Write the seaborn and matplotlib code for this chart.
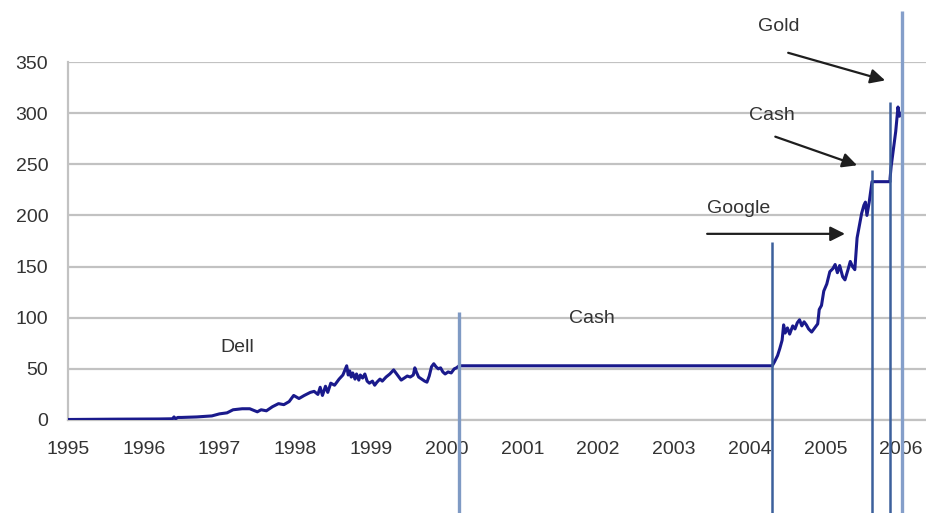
import numpy as np
import pandas as pd
import matplotlib
matplotlib.use("Agg")
import matplotlib.pyplot as plt
import seaborn as sns

# ---- data (decimal years, portfolio value) ----
dell_x = [1995.0, 1995.3, 1995.6, 1995.9, 1996.2, 1996.38, 1996.4, 1996.42, 1996.45, 1996.5,
          1996.7, 1996.9, 1997.0, 1997.1, 1997.18, 1997.3, 1997.4, 1997.5, 1997.55, 1997.62,
          1997.7, 1997.78, 1997.85, 1997.92, 1997.98, 1998.05, 1998.12, 1998.2, 1998.25, 1998.3,
          1998.33, 1998.36, 1998.4, 1998.43, 1998.47, 1998.52, 1998.58, 1998.63, 1998.68, 1998.70,
          1998.72, 1998.74, 1998.76, 1998.79, 1998.81, 1998.84, 1998.86, 1998.89, 1998.92, 1998.95,
          1998.98, 1999.02, 1999.05, 1999.08, 1999.12, 1999.15, 1999.20, 1999.25, 1999.30, 1999.33,
          1999.37, 1999.40, 1999.44, 1999.48, 1999.52, 1999.56, 1999.58, 1999.60, 1999.63, 1999.67,
          1999.71, 1999.74, 1999.77, 1999.80, 1999.83, 1999.86, 1999.89, 1999.92, 1999.95, 1999.98,
          2000.02, 2000.06, 2000.10, 2000.13, 2000.165]
dell_y = [0.5, 0.7, 0.8, 0.9, 1.0, 1.2, 3.0, 1.2, 2.5, 2.5,
          3.0, 4.0, 6.0, 7.0, 10.0, 11.0, 11.0, 8.0, 10.0, 9.0,
          13.0, 16.0, 15.0, 18.0, 24.0, 21.0, 24.0, 27.0, 28.0, 25.0,
          32.0, 24.0, 33.0, 27.0, 36.0, 34.0, 40.0, 44.0, 53.0, 44.0,
          48.0, 42.0, 46.0, 40.0, 45.0, 39.0, 44.0, 41.0, 45.0, 38.0,
          36.0, 38.0, 34.0, 37.0, 40.0, 38.0, 42.0, 45.0, 49.0, 46.0,
          42.0, 39.0, 41.0, 43.0, 42.0, 44.0, 51.0, 47.0, 42.0, 40.0,
          38.0, 37.0, 43.0, 52.0, 55.0, 52.0, 50.0, 51.0, 47.0, 45.0,
          47.0, 46.0, 50.0, 51.0, 53.0]
cash1_x = [2000.165, 2004.30]
cash1_y = [53.0, 53.0]
google_x = [2004.30, 2004.33, 2004.37, 2004.40, 2004.43, 2004.45, 2004.47, 2004.50, 2004.53,
            2004.57, 2004.60, 2004.63, 2004.66, 2004.69, 2004.72, 2004.75, 2004.78, 2004.82,
            2004.86, 2004.90, 2004.92, 2004.95, 2004.98, 2005.02, 2005.06, 2005.10, 2005.13,
            2005.16, 2005.19, 2005.23, 2005.26, 2005.30, 2005.33, 2005.36, 2005.39, 2005.42,
            2005.45, 2005.48, 2005.51, 2005.53, 2005.55, 2005.58, 2005.617]
google_y = [53, 57, 63, 70, 78, 93, 85, 90, 84,
            92, 89, 95, 98, 92, 96, 93, 89, 86,
            90, 94, 108, 112, 126, 133, 145, 148, 152,
            144, 151, 140, 137, 147, 155, 150, 147, 178,
            190, 202, 210, 213, 200, 213, 233]
cash2_x = [2005.617, 2005.855]
cash2_y = [233.0, 233.0]
gold_x = [2005.855, 2005.87, 2005.90, 2005.93, 2005.96, 2005.98, 2006.0]
gold_y = [236, 248, 265, 282, 306, 297, 300]

# portfolio switch markers
switch_x = [2000.165, 2004.30, 2005.617, 2005.86, 2006.01]
switch_top = [106, 174, 244, 311, 400]
switch_color = ["#7f9ac4", "#3c609c", "#3c609c", "#3c609c", "#859fca"]
switch_lw = [2.4, 1.8, 1.8, 1.8, 2.4]

year_ticks = list(range(1995, 2007))
value_ticks = list(range(0, 351, 50))

labels_text = ["Dell", "Cash", "Google", "Cash", "Gold"]
labels_x = [1997.23, 2001.92, 2003.85, 2004.30, 2004.39]
labels_y = [71, 99, 207, 298, 385]

arrow_from = [(2003.44, 182), (2004.34, 277), (2004.51, 359)]
arrow_to = [(2005.26, 182), (2005.42, 249), (2005.79, 332)]

# ---- build series ----
xs = dell_x + cash1_x + google_x + cash2_x + gold_x
ys = dell_y + cash1_y + google_y + cash2_y + gold_y
df = pd.DataFrame({"year": xs, "value": ys})

sns.set_style("white")
plt.rcParams["font.family"] = ["Liberation Sans", "DejaVu Sans"]

fig = plt.figure(figsize=(9.26, 5.13), dpi=100)
ax = fig.add_axes([68 / 926, 93 / 513, 858 / 926, 358 / 513])

grid_c = "#c2c2c2"
ax.set_ylim(0, 350)
ax.set_xlim(1995, 2006.33)
ax.set_yticks(value_ticks)
ax.set_xticks(year_ticks)
ax.set_xticklabels([str(y) for y in year_ticks])
ax.yaxis.grid(True, color=grid_c, lw=1.6)
ax.xaxis.grid(False)
ax.set_axisbelow(True)
for s in ["top", "right"]:
    ax.spines[s].set_visible(False)
for s in ["left", "bottom"]:
    ax.spines[s].set_color(grid_c)
    ax.spines[s].set_linewidth(1.6)
ax.tick_params(axis="y", direction="out", length=4.3, width=1.5, color=grid_c,
               labelsize=14, labelcolor="#333333", pad=10)
ax.tick_params(axis="x", direction="out", length=4, width=1.2, color=grid_c,
               labelsize=14, labelcolor="#333333", pad=11)

sns.lineplot(data=df, x="year", y="value", sort=False, estimator=None,
             color="#1a1a8c", lw=2.2, ax=ax, zorder=3)
ax.set_xlabel("")
ax.set_ylabel("")

for x, top, c, lw in zip(switch_x, switch_top, switch_color, switch_lw):
    ax.plot([x, x], [-92, top], color=c, lw=lw, clip_on=False, zorder=5,
            solid_capstyle="butt")

for t, x, y in zip(labels_text, labels_x, labels_y):
    ax.text(x, y, t, ha="center", va="center", fontsize=14, color="#333333",
            clip_on=False)

for (x0, y0), (x1, y1) in zip(arrow_from, arrow_to):
    ax.annotate("", xy=(x1, y1), xytext=(x0, y0), annotation_clip=False,
                arrowprops=dict(arrowstyle="-|>", color="#1e1e1e", lw=1.6,
                                mutation_scale=22, shrinkA=0, shrinkB=0))

fig.savefig("out.png", dpi=100)
